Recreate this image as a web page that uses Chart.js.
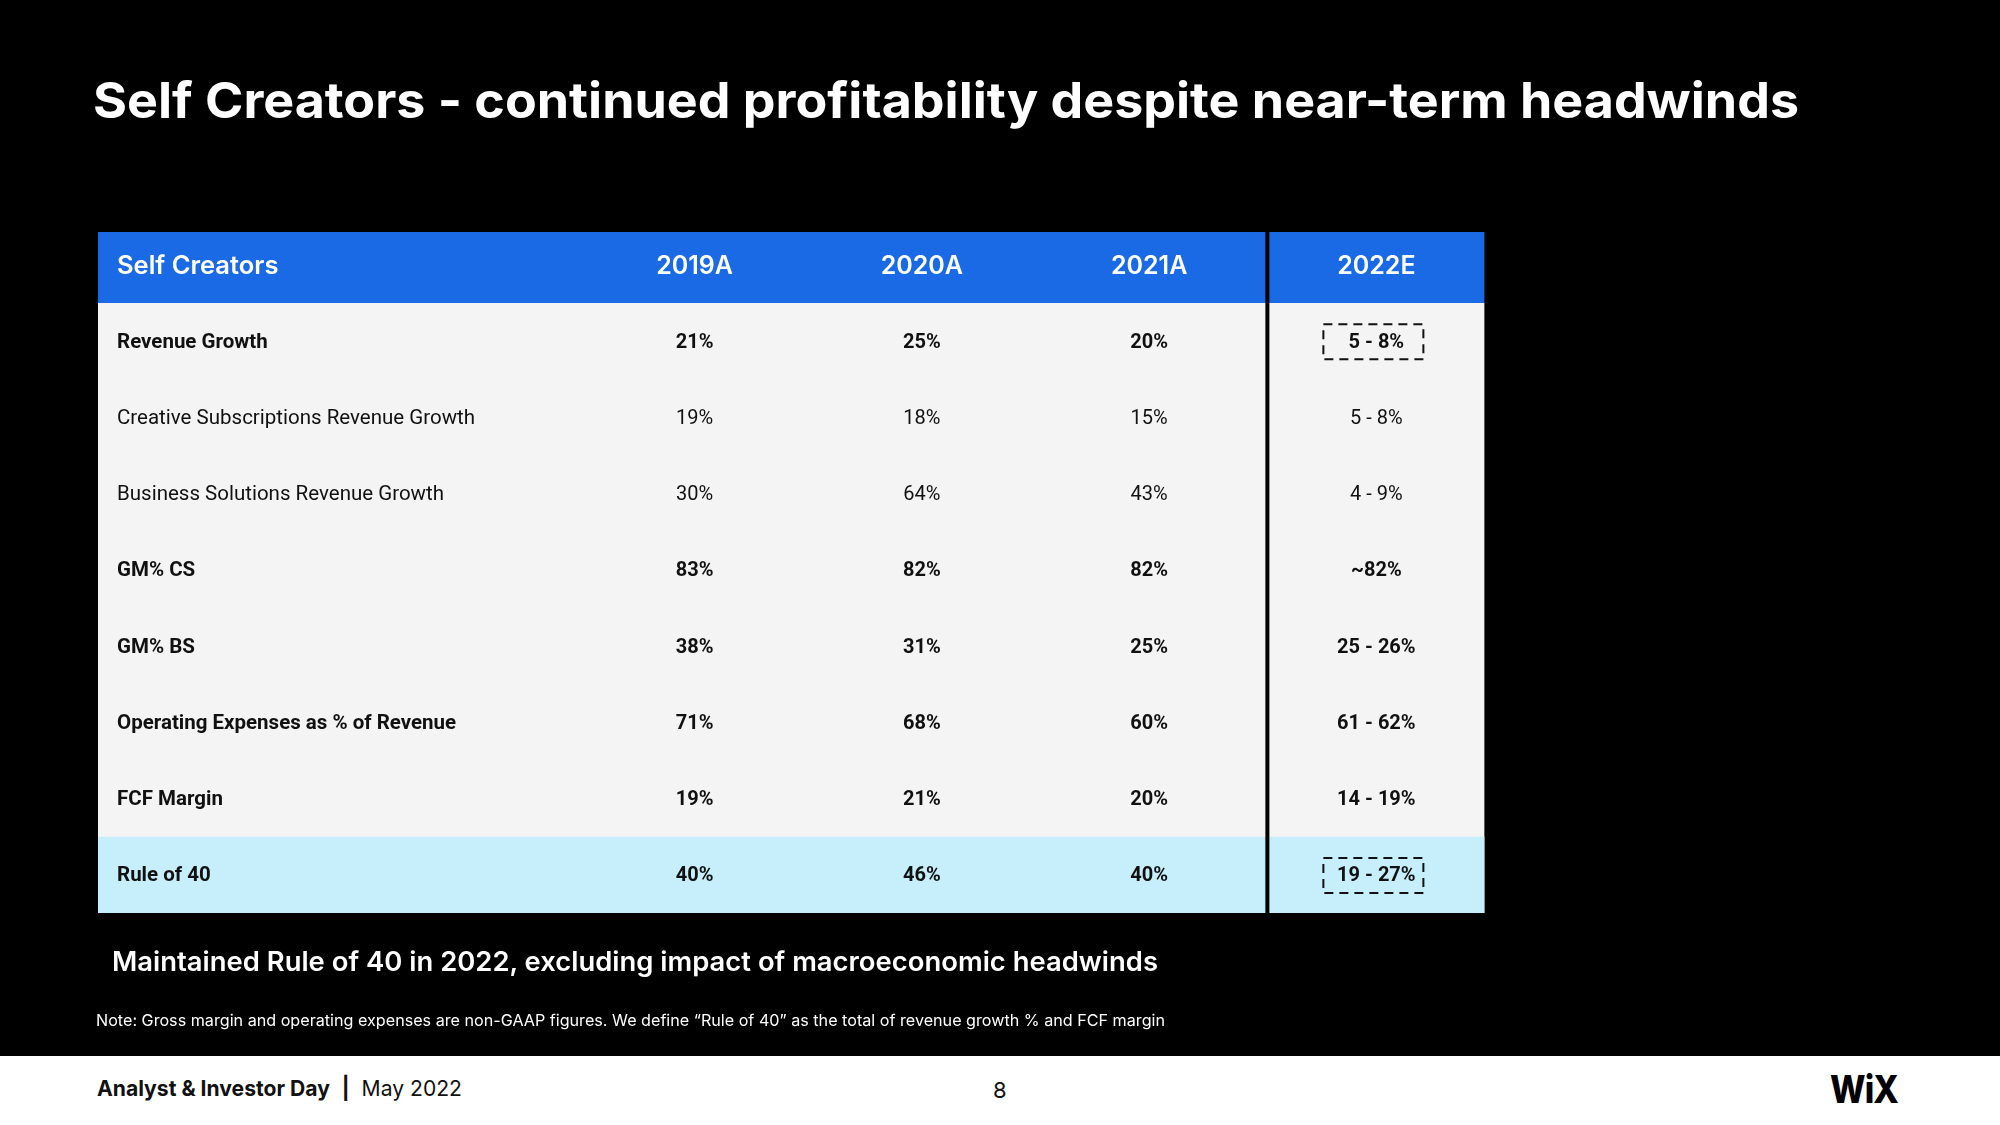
<!DOCTYPE html>
<html>
<head>
<meta charset="utf-8">
<title>Self Creators</title>
<script src="https://cdn.jsdelivr.net/npm/chart.js@4.4.1/dist/chart.umd.min.js"></script>
<style>
  html, body { margin: 0; padding: 0; background: #000; }
  body { width: 2000px; height: 1125px; position: relative; overflow: hidden; font-family: Inter, "Open Sans", sans-serif; }
  #table { position: absolute; left: 0; top: 0; }
  .txt { position: absolute; white-space: nowrap; line-height: 1; transform-origin: left center; }
  #title { left: 93px; top: 75px; font-size: 50px; font-weight: 700; color: #fff; }
  #subtitle { left: 112px; top: 948px; font-size: 27px; font-weight: 600; color: #fff; }
  #note { left: 96px; top: 1012px; font-size: 16px; font-weight: 400; color: #fff; }
  #footer { position: absolute; left: 0; top: 1056px; width: 2000px; height: 69px; background: #fff; }
  #event { left: 97px; top: 1077px; font-size: 22px; font-weight: 400; color: #111; }
  #event b { font-weight: 700; }
  #page { left: 993px; top: 1079px; font-size: 22px; font-weight: 400; color: #111; }
  #logo { left: 1830px; top: 1070px; font-size: 38px; font-weight: 800; color: #000; letter-spacing: -1px; }
</style>
</head>
<body>
<canvas id="table" width="2000" height="1125"></canvas>
<div id="title" class="txt">Self Creators - continued profitability despite near-term headwinds</div>
<div id="subtitle" class="txt">Maintained Rule of 40 in 2022, excluding impact of macroeconomic headwinds</div>
<div id="note" class="txt">Note: Gross margin and operating expenses are non-GAAP figures. We define “Rule of 40” as the total of revenue growth % and FCF margin</div>
<div id="footer"></div>
<div id="event" class="txt"><b>Analyst &amp; Investor Day</b>&nbsp; <b>|</b>&nbsp; May 2022</div>
<div id="page" class="txt">8</div>
<div id="logo" class="txt">WiX</div>
<script>
// --- Table data ---
const headerLabel = 'Self Creators';
const years = ['2019A', '2020A', '2021A', '2022E'];
const metrics = [
  'Revenue Growth',
  'Creative Subscriptions Revenue Growth',
  'Business Solutions Revenue Growth',
  'GM% CS',
  'GM% BS',
  'Operating Expenses as % of Revenue',
  'FCF Margin',
  'Rule of 40'
];
const actual2019 = [21, 19, 30, 83, 38, 71, 19, 40];
const actual2020 = [25, 18, 64, 82, 31, 68, 21, 46];
const actual2021 = [20, 15, 43, 82, 25, 60, 20, 40];
const estimate2022 = ['5 - 8%', '5 - 8%', '4 - 9%', '~82%', '25 - 26%', '61 - 62%', '14 - 19%', '19 - 27%'];
const boldMetrics = ['Revenue Growth', 'GM% CS', 'GM% BS', 'Operating Expenses as % of Revenue', 'FCF Margin', 'Rule of 40'];
const boxedMetrics = ['Revenue Growth', 'Rule of 40'];
const highlightMetric = 'Rule of 40';

const columns = [
  actual2019.map(v => v + '%'),
  actual2020.map(v => v + '%'),
  actual2021.map(v => v + '%'),
  estimate2022
];

const tablePlugin = {
  id: 'tablePlugin',
  beforeDraw(chart) {
    const { ctx, chartArea, scales: { x, y } } = chart;
    const rowH = (chartArea.bottom - chartArea.top) / metrics.length;
    const headerH = 71;
    const headTop = chartArea.top - headerH;
    const lastX = x.getPixelForValue(years.length - 1);
    const tableLeft = 98;
    const tableRight = lastX + 108;
    const dividerX = lastX - 111;
    const labelX = 117;

    ctx.save();
    // header band
    ctx.fillStyle = '#1a6ae6';
    ctx.fillRect(tableLeft, headTop, tableRight - tableLeft, headerH);
    // body
    ctx.fillStyle = '#f4f4f4';
    ctx.fillRect(tableLeft, chartArea.top, tableRight - tableLeft, chartArea.bottom - chartArea.top);
    // highlighted row
    const hy = y.getPixelForValue(metrics.indexOf(highlightMetric));
    ctx.fillStyle = '#c6effb';
    ctx.fillRect(tableLeft, hy - rowH / 2, tableRight - tableLeft, rowH);
    // divider before the estimate column
    ctx.fillStyle = '#000';
    ctx.fillRect(dividerX, headTop, 4, chartArea.bottom - headTop + 2);

    // header texts
    ctx.fillStyle = '#fff';
    ctx.textBaseline = 'alphabetic';
    const headBase = headTop + headerH / 2 + 6;
    ctx.textAlign = 'left';
    ctx.font = '600 25.5px Inter';
    ctx.fillText(headerLabel, labelX, headBase);
    ctx.textAlign = 'center';
    ctx.font = '600 25px Inter';
    years.forEach((yr, i) => ctx.fillText(yr, x.getPixelForValue(i), headBase));

    // rows
    metrics.forEach((m, r) => {
      const cy = y.getPixelForValue(r);
      const base = cy + 6.5;
      const bold = boldMetrics.includes(m);
      ctx.fillStyle = '#111';
      ctx.font = (bold ? 'bold ' : '') + '20.5px Roboto';
      ctx.textAlign = 'left';
      ctx.fillText(m, labelX, base);
      ctx.textAlign = 'center';
      ctx.font = (bold ? 'bold ' : '') + '20px Roboto';
      columns.forEach((col, c) => ctx.fillText(col[r], x.getPixelForValue(c), base));

      if (boxedMetrics.includes(m)) {
        const bx = x.getPixelForValue(years.length - 1) - 3;
        ctx.strokeStyle = '#111';
        ctx.lineWidth = 2;
        ctx.setLineDash([9, 6]);
        ctx.strokeRect(bx - 50, cy - 17, 100, 35);
        ctx.setLineDash([]);
      }
    });
    ctx.restore();
  }
};

new Chart(document.getElementById('table'), {
  type: 'bar',
  data: { labels: years, datasets: [] },
  options: {
    responsive: false,
    animation: false,
    devicePixelRatio: 1,
    layout: { padding: { left: 581, right: 510, top: 303, bottom: 212 } },
    plugins: { legend: { display: false }, tooltip: { enabled: false } },
    scales: {
      x: { type: 'category', labels: years, offset: true, display: false },
      y: { type: 'category', labels: metrics, offset: true, display: false }
    }
  },
  plugins: [tablePlugin]
});

// stretch slide texts to the widths in the deck
function fitText(id, width) {
  const el = document.getElementById(id);
  const w = el.getBoundingClientRect().width;
  if (w > 0) el.style.transform = `scaleX(${width / w})`;
}

document.fonts.ready.then(() => {
  fitText('title', 1706);
  fitText('subtitle', 1046);
  fitText('note', 1069);
  fitText('event', 365);
  fitText('logo', 68);
});
</script>
</body>
</html>
